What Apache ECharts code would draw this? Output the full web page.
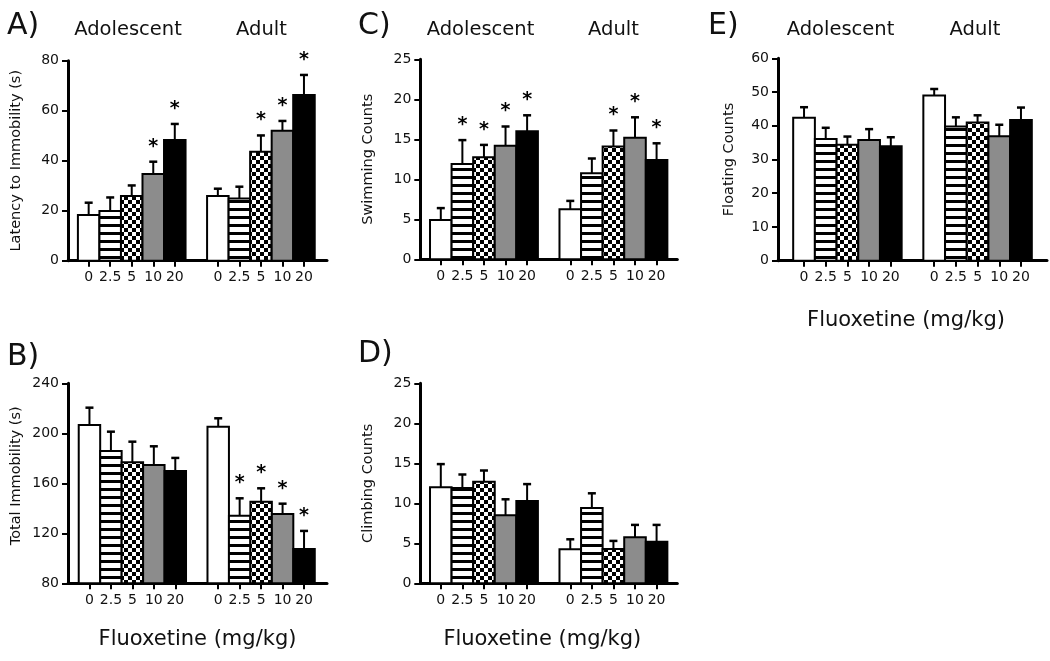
<!DOCTYPE html>
<html><head><meta charset="utf-8">
<script src="https://cdn.jsdelivr.net/npm/echarts@6/dist/echarts.min.js"></script>
<style>html,body{margin:0;padding:0;background:#fff}#chart{width:1050px;height:661px}</style>
</head><body><div id="chart"></div>
<script>
// ---- data ----
const doses = ['0', '2.5', '5', '10', '20'];
const ageGroups = ['Adolescent', 'Adult'];
const xAxisTitle = 'Fluoxetine (mg/kg)';

// each array: 5 adolescent values then 5 adult values (dose order 0, 2.5, 5, 10, 20)
const latencyMean = [18.3, 19.9, 25.9, 34.7, 48.3, 25.9, 24.9, 43.6, 52.0, 66.3];
const latencySem  = [4.9, 5.4, 4.2, 4.9, 6.4, 2.9, 4.7, 6.5, 3.9, 8.0];
const latencySig  = [0, 0, 0, 1, 1, 0, 0, 1, 1, 1];

const immobilityMean = [206.7, 185.9, 176.8, 174.7, 169.9, 205.3, 134.1, 145.3, 135.5, 107.5];
const immobilitySem  = [13.8, 15.4, 16.5, 14.9, 10.4, 6.7, 13.9, 10.7, 8.2, 14.4];
const immobilitySig  = [0, 0, 0, 0, 0, 0, 1, 1, 1, 1];

const swimmingMean = [4.9, 11.9, 12.75, 14.2, 16.0, 6.25, 10.75, 14.1, 15.2, 12.4];
const swimmingSem  = [1.5, 3.0, 1.55, 2.4, 2.0, 1.05, 1.85, 2.0, 2.55, 2.1];
const swimmingSig  = [0, 1, 1, 1, 1, 0, 0, 1, 1, 1];

const climbingMean = [12.0, 11.9, 12.7, 8.5, 10.3, 4.25, 9.4, 4.3, 5.75, 5.2];
const climbingSem  = [2.9, 1.7, 1.4, 2.0, 2.1, 1.25, 1.85, 1.0, 1.55, 2.1];
const climbingSig  = [0, 0, 0, 0, 0, 0, 0, 0, 0, 0];

const floatingMean = [42.4, 36.1, 34.4, 35.8, 33.9, 49.0, 39.8, 41.0, 36.9, 41.7];
const floatingSem  = [3.1, 3.3, 2.4, 3.2, 2.7, 1.9, 2.7, 2.1, 3.4, 3.7];
const floatingSig  = [0, 0, 0, 0, 0, 0, 0, 0, 0, 0];

// y axis ranges [min, max, interval]
const latencyRange    = [0, 80, 20];
const immobilityRange = [80, 240, 40];
const swimmingRange   = [0, 25, 5];
const climbingRange   = [0, 25, 5];
const floatingRange   = [0, 60, 10];

// ---- patterns ----
function makeCanvas(w, h, draw) {
  const c = document.createElement('canvas'); c.width = w; c.height = h;
  draw(c.getContext('2d')); return c;
}
const stripeImg = makeCanvas(8, 8, g => { g.fillStyle = '#fff'; g.fillRect(0, 0, 8, 8); g.fillStyle = '#000'; g.fillRect(0, 0, 8, 3); });
const checkImg = makeCanvas(8, 8, g => { g.fillStyle = '#fff'; g.fillRect(0, 0, 8, 8); g.fillStyle = '#000'; g.fillRect(0, 0, 4, 4); g.fillRect(4, 4, 4, 4); });
const doseFills = ['#ffffff', { image: stripeImg, repeat: 'repeat' }, { image: checkImg, repeat: 'repeat' }, '#8c8c8c', '#000000'];

const FONT = 'DejaVu Sans';
const TXT = '#111';

// panel layout
const panels = [
  { name: 'Latency to Immobility (s)', mean: latencyMean, sem: latencySem, sig: latencySig, range: latencyRange,
    grid: { left: 68, top: 60.7, width: 259, height: 200 }, xr: [-0.96, 11.07], nameGap: 44, xName: false },
  { name: 'Total Immobility (s)', mean: immobilityMean, sem: immobilitySem, sig: immobilitySig, range: immobilityRange,
    grid: { left: 68, top: 383.3, width: 259, height: 200 }, xr: [-1.0, 11.07], nameGap: 44, namePad: [0, 0, 0, 15], xName: true, xGap: 46, xPad: [0, 0, 0, 0] },
  { name: 'Swimming Counts', mean: swimmingMean, sem: swimmingSem, sig: swimmingSig, range: swimmingRange,
    grid: { left: 420.3, top: 59.3, width: 257, height: 200 }, xr: [-0.95, 10.96], nameGap: 45, xName: false },
  { name: 'Climbing Counts', mean: climbingMean, sem: climbingSem, sig: climbingSig, range: climbingRange,
    grid: { left: 420.3, top: 383.3, width: 257, height: 200 }, xr: [-0.95, 10.96], nameGap: 45, xName: true, xGap: 46, xPad: [0, 13, 0, 0] },
  { name: 'Floating Counts', mean: floatingMean, sem: floatingSem, sig: floatingSig, range: floatingRange,
    grid: { left: 778, top: 58.3, width: 269, height: 202.4 }, xr: [-1.2, 11.2], nameGap: 41, xName: true, xGap: 49, xPad: [0, 13, 0, 0] }
];

const tickPos = [];
ageGroups.forEach((g, gi) => doses.forEach((d, di) => tickPos.push(gi * 6 + di)));

const grids = [], xAxes = [], yAxes = [], series = [];
panels.forEach((p, i) => {
  grids.push(Object.assign({ containLabel: false }, p.grid));
  xAxes.push({
    gridIndex: i, type: 'value', min: p.xr[0], max: p.xr[1],
    splitLine: { show: false },
    axisLine: { onZero: false, lineStyle: { color: '#000', width: 3 } },
    axisTick: { customValues: tickPos, length: 6, lineStyle: { color: '#000', width: 2 } },
    axisLabel: { customValues: tickPos, formatter: v => doses[Math.round(v) % 6], color: TXT, fontFamily: FONT, fontSize: 14, margin: 10 },
    name: p.xName ? xAxisTitle : '', nameLocation: 'middle', nameGap: p.xGap || 40,
    nameTextStyle: { fontFamily: FONT, fontSize: 21, color: TXT, padding: p.xPad || 0 }
  });
  yAxes.push({
    gridIndex: i, type: 'value', min: p.range[0], max: p.range[1], interval: p.range[2],
    splitLine: { show: false },
    axisLine: { show: true, onZero: false, lineStyle: { color: '#000', width: 3 } },
    axisTick: { show: true, length: 6, lineStyle: { color: '#000', width: 2 } },
    axisLabel: { color: TXT, fontFamily: FONT, fontSize: 14, margin: 9 },
    name: p.name, nameLocation: 'middle', nameRotate: 90, nameGap: p.nameGap,
    nameTextStyle: { fontFamily: FONT, fontSize: 14.5, color: TXT, padding: p.namePad || 0 }
  });
  const data = p.mean.map((m, k) => {
    const gi = Math.floor(k / doses.length), di = k % doses.length;
    return [gi * 6 + di, m, p.sem[k], p.sig[k], di];
  });
  const yMin = p.range[0];
  series.push({
    type: 'custom', xAxisIndex: i, yAxisIndex: i, clip: false, data,
    encode: { x: 0, y: 1 },
    renderItem: (params, api) => {
      const x = api.value(0), m = api.value(1), s = api.value(2), sig = api.value(3), d = api.value(4);
      const bw = api.size([1, 0])[0];
      const p0 = api.coord([x, yMin]);
      const p1 = api.coord([x, m]);
      const p2 = api.coord([x, m + s]);
      const children = [
        { type: 'line', shape: { x1: p1[0], y1: p1[1], x2: p2[0], y2: p2[1] }, style: { stroke: '#000', lineWidth: 2 } },
        { type: 'line', shape: { x1: p2[0] - 4, y1: p2[1], x2: p2[0] + 4, y2: p2[1] }, style: { stroke: '#000', lineWidth: 2.5 } },
        { type: 'rect', shape: { x: p0[0] - bw / 2, y: p1[1], width: bw, height: p0[1] - p1[1] },
          style: { fill: doseFills[d], stroke: '#000', lineWidth: 2 } }
      ];
      if (sig) children.push({ type: 'text', x: p2[0], y: p2[1] - 15,
        style: { text: '*', font: 'bold 19px "DejaVu Sans"', fill: '#000', textAlign: 'center', textVerticalAlign: 'middle' } });
      return { type: 'group', children };
    }
  });
});

function label(text, x, y, size, align) {
  return { type: 'text', x, y, style: { text, font: size + 'px "DejaVu Sans"', fill: TXT, textAlign: align, textVerticalAlign: 'middle' } };
}
const graphics = [
  label('A)', 7, 26, 30, 'left'), label('B)', 7, 357, 30, 'left'), label('C)', 358, 26, 30, 'left'),
  label('D)', 358, 354, 30, 'left'), label('E)', 708, 26, 30, 'left'),
  label(ageGroups[0], 128, 30, 19.5, 'center'), label(ageGroups[1], 261.5, 30, 19.5, 'center'),
  label(ageGroups[0], 480.5, 30, 19.5, 'center'), label(ageGroups[1], 613.5, 30, 19.5, 'center'),
  label(ageGroups[0], 840.5, 30, 19.5, 'center'), label(ageGroups[1], 975, 30, 19.5, 'center')
];

const chart = echarts.init(document.getElementById('chart'), null, { renderer: 'canvas' });
chart.setOption({
  animation: false, backgroundColor: '#fff',
  grid: grids, xAxis: xAxes, yAxis: yAxes, series, graphic: graphics
});
</script></body></html>
